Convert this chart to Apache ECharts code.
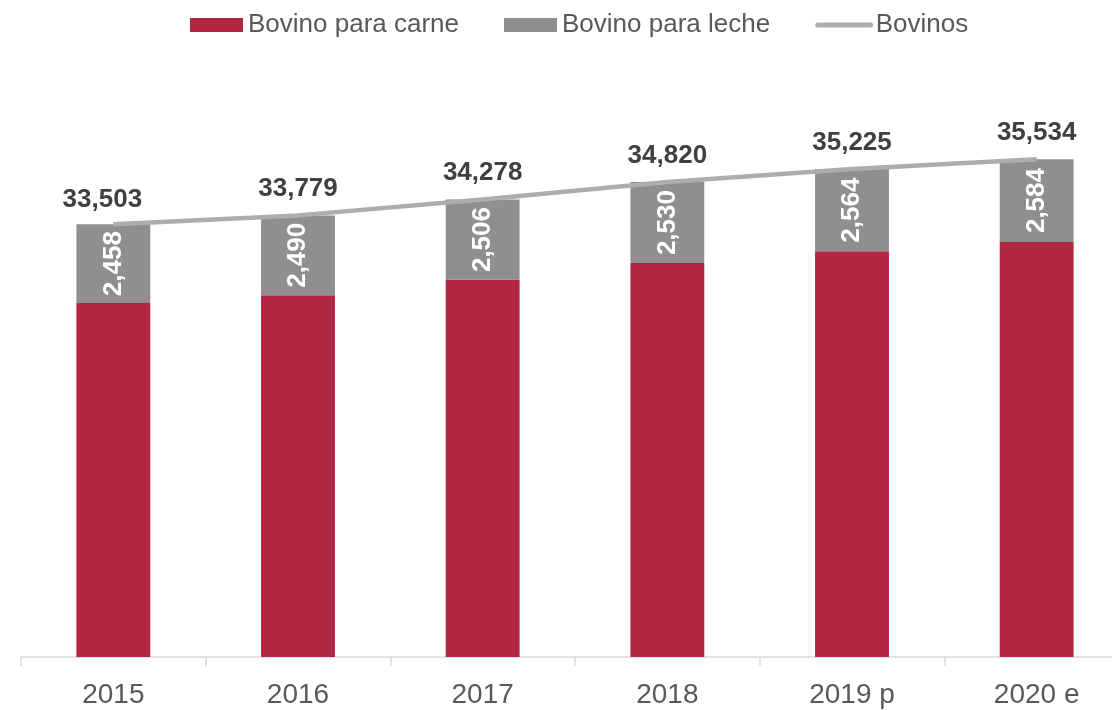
<!DOCTYPE html>
<html>
<head>
<meta charset="utf-8">
<script src="https://cdn.jsdelivr.net/npm/echarts@6/dist/echarts.min.js"></script>
<style>
  html, body { margin: 0; padding: 0; background: #fff; overflow: hidden; }
  #chart { width: 1130px; height: 710px; }
</style>
</head>
<body>
<div id="chart"></div>
<script>
const years = ['2015', '2016', '2017', '2018', '2019 p', '2020 e']
const carne = [31045, 31289, 31772, 32290, 32661, 32950]
const leche = [2458, 2490, 2506, 2530, 2564, 2584]
const bovinos = [33503, 33779, 34278, 34820, 35225, 35534]

// chart is a bit wider than the window: the last category is cut off on the right like the original
const chart = echarts.init(document.getElementById('chart'))
const font = 'Liberation Sans, Arial, sans-serif'

chart.setOption({
  animation: false,
  textStyle: { fontFamily: font },
  legend: {
    top: 7,
    left: 185,
    itemWidth: 53,
    itemHeight: 14,
    itemGap: 45,
    textStyle: { color: '#595959', fontSize: 26, fontFamily: font },
    data: [
      { name: 'Bovino para carne', icon: 'rect' },
      { name: 'Bovino para leche', icon: 'rect' },
      { name: 'Bovinos', itemStyle: { opacity: 0 }, lineStyle: { color: '#ADADAD', width: 5, cap: 'round' } }
    ]
  },
  grid: { left: 21, right: 1, top: 16, bottom: 53 },
  xAxis: {
    type: 'category',
    data: years,
    axisLine: { lineStyle: { color: '#D9D9D9', width: 1.5 } },
    axisTick: { show: true, length: 9, lineStyle: { color: '#D9D9D9', width: 1.5 } },
    axisLabel: { color: '#595959', fontSize: 28, margin: 24, fontFamily: font }
  },
  yAxis: {
    type: 'value',
    min: 20000,
    max: 40000,
    show: false,
    splitLine: { show: false }
  },
  series: [
    {
      name: 'Bovino para carne',
      type: 'bar',
      stack: 'b',
      barWidth: '40%',
      itemStyle: { color: '#B12641' },
      data: carne
    },
    {
      name: 'Bovino para leche',
      type: 'bar',
      stack: 'b',
      barWidth: '40%',
      itemStyle: { color: '#8F8F8F' },
      label: {
        show: true,
        position: 'inside',
        rotate: 90,
        color: '#fff',
        fontWeight: 'bold',
        fontSize: 26,
        fontFamily: font,
        formatter: p => p.value.toLocaleString('en-US')
      },
      data: leche
    },
    {
      name: 'Bovinos',
      type: 'line',
      symbol: 'circle',
      symbolSize: 1,
      itemStyle: { color: '#ADADAD' },
      lineStyle: { color: '#ADADAD', width: 4.5 },
      label: {
        show: true,
        position: 'top',
        distance: 13,
        color: '#404040',
        fontWeight: 'bold',
        fontSize: 26,
        fontFamily: font,
        formatter: p => p.value.toLocaleString('en-US')
      },
      data: bovinos.map((v, i) => i === 0 ? { value: v, label: { offset: [-11, 2] } } : v)
    }
  ]
})
</script>
</body>
</html>
